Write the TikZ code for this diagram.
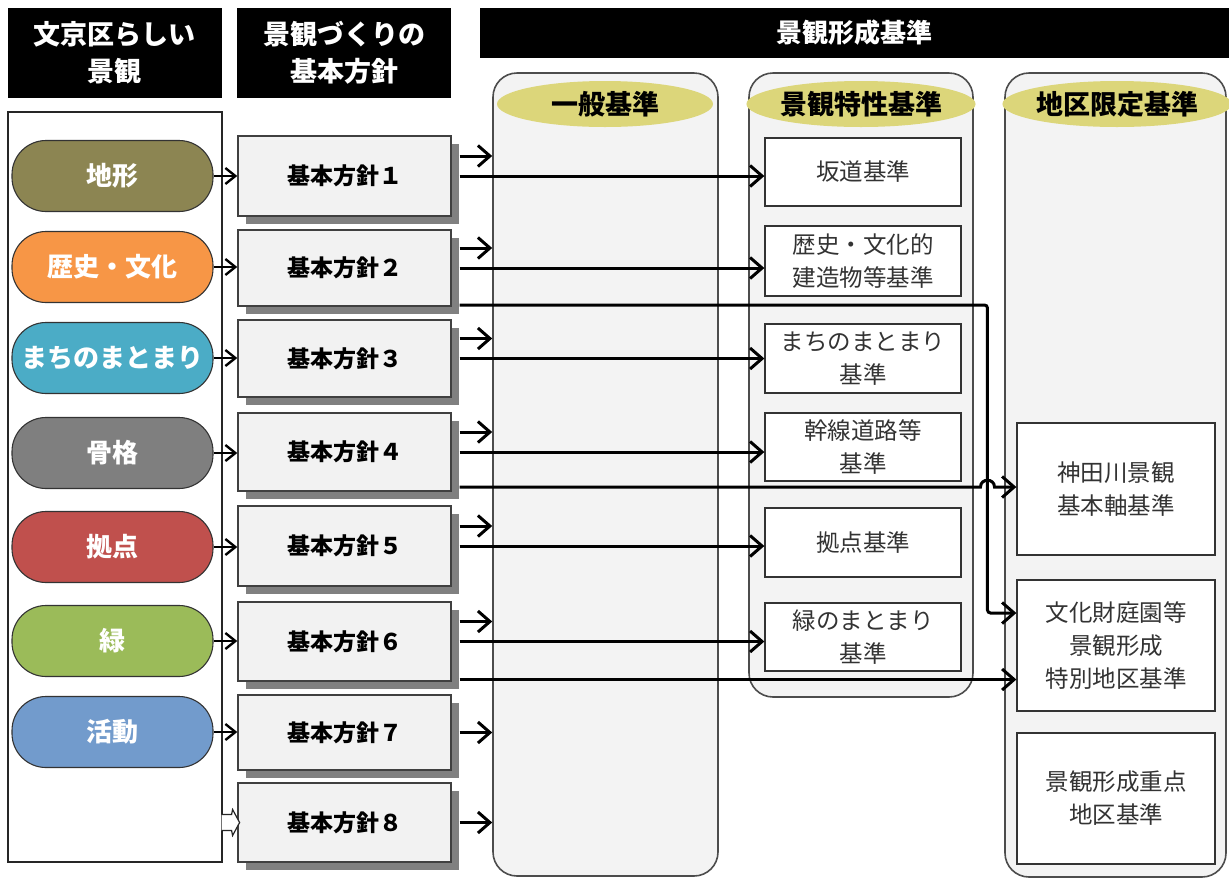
\documentclass[tikz,border=0pt]{standalone}
\usepackage{fontspec}
\setmainfont{Noto Sans CJK JP}
\usetikzlibrary{arrows.meta,shadows,calc,shapes.geometric}
\definecolor{cTerrain}{RGB}{140,133,82}
\definecolor{cHistory}{RGB}{247,150,70}
\definecolor{cTown}{RGB}{75,172,198}
\definecolor{cFrame}{RGB}{127,127,127}
\definecolor{cBase}{RGB}{192,80,77}
\definecolor{cGreen}{RGB}{155,187,89}
\definecolor{cAct}{RGB}{114,155,204}
\definecolor{capfill}{RGB}{220,214,122}
\definecolor{panelfill}{RGB}{243,243,243}
\definecolor{boxfill}{RGB}{242,242,242}
\definecolor{shadowgray}{RGB}{128,128,128}
\begin{document}
\begin{tikzpicture}[x=1pt,y=-1pt,
  hdr/.style={fill=black, text=white, font=\fontsize{27}{37}\selectfont\bfseries, align=center, inner sep=0pt},
  pill/.style={rounded corners=34pt, draw=black!80, line width=1.1pt, minimum width=201pt, minimum height=71pt, inner sep=0pt, text=white, font=\fontsize{26}{30}\selectfont\bfseries},
  policy/.style={draw=black!75, line width=1.4pt, fill=boxfill, minimum width=213pt, minimum height=77pt, inner sep=0pt, font=\fontsize{23}{28}\selectfont\bfseries, general shadow={fill=shadowgray, shadow xshift=8pt, shadow yshift=-8pt}},
  panel/.style={draw=black!70, line width=1.6pt, fill=panelfill, rounded corners=24pt, inner sep=0pt},
  panelcap/.style={ellipse, fill=capfill, minimum width=216pt, minimum height=46pt, inner sep=0pt, font=\fontsize{27}{30}\selectfont\bfseries},
  crit/.style={draw=black!80, line width=1.3pt, fill=white, minimum width=196pt, inner sep=0pt, align=center, text=black!80, font=\fontsize{23.5}{33}\selectfont},
  arr/.style={line width=3pt, -{Straight Barb[length=12pt,width=21pt]}},
  sarr/.style={line width=2.4pt, -{Straight Barb[length=10pt,width=16pt]}}
]
\useasboundingbox (0,0) rectangle (1229,879);
\fill[white] (0,0) rectangle (1229,879);

% headers
\node[hdr, minimum width=214pt, minimum height=90pt] (h1) at (115,53) {文京区らしい\\景観};
\node[hdr, minimum width=214pt, minimum height=90pt] (h2) at (344,53) {景観づくりの\\基本方針};
\node[hdr, minimum width=749pt, minimum height=50pt, font=\fontsize{26}{30}\selectfont\bfseries] (h3) at (854.5,33) {景観形成基準};

% left container
\node[draw=black!85, line width=1.2pt, fill=white, minimum width=214pt, minimum height=750pt, inner sep=0pt] (lc) at (115,487) {};

% pills
\node[pill, fill=cTerrain] (p1) at (112.5,176) {地形};
\node[pill, fill=cHistory] (p2) at (112.5,267) {歴史・文化};
\node[pill, fill=cTown] (p3) at (112.5,358) {まちのまとまり};
\node[pill, fill=cFrame] (p4) at (112.5,453) {骨格};
\node[pill, fill=cBase] (p5) at (112.5,547) {拠点};
\node[pill, fill=cGreen] (p6) at (112.5,641) {緑};
\node[pill, fill=cAct] (p7) at (112.5,732) {活動};

% panels
\node[panel, minimum width=225pt, minimum height=803pt] (g1) at (605.5,474.5) {};
\node[panel, minimum width=224pt, minimum height=624pt] (g2) at (861,385) {};
\node[panel, minimum width=221pt, minimum height=804pt] (g3) at (1115.5,475) {};
\node[panelcap] (c1) at (605,104) {一般基準};
\node[panelcap, minimum width=218pt] (c2) at (861,104) {景観特性基準};
\node[panelcap, minimum width=218pt] (c3) at (1117,104) {地区限定基準};

% criteria boxes
\node[crit, minimum height=68pt] (k1) at (863,172) {坂道基準};
\node[crit, minimum height=70pt] (k2) at (863,261) {歴史・文化的\\建造物等基準};
\node[crit, minimum height=69pt] (k3) at (863,358.5) {まちのまとまり\\基準};
\node[crit, minimum height=68pt] (k4) at (863,447) {幹線道路等\\基準};
\node[crit, minimum height=69pt] (k5) at (863,542.5) {拠点基準};
\node[crit, minimum height=68pt] (k6) at (863,637) {緑のまとまり\\基準};
\node[crit, minimum width=198pt, minimum height=132pt] (r1) at (1116,489) {神田川景観\\基本軸基準};
\node[crit, minimum width=198pt, minimum height=131pt] (r2) at (1116,645.5) {文化財庭園等\\景観形成\\特別地区基準};
\node[crit, minimum width=198pt, minimum height=131pt] (r3) at (1116,798.5) {景観形成重点\\地区基準};

% policy boxes
\node[policy, minimum height=80pt] (b1) at (344.5,176) {基本方針１};
\node[policy, minimum height=76pt] (b2) at (344.5,268) {基本方針２};
\node[policy] (b3) at (344.5,358.5) {基本方針３};
\node[policy, minimum height=78pt] (b4) at (344.5,452) {基本方針４};
\node[policy, minimum height=80pt] (b5) at (344.5,546) {基本方針５};
\node[policy, minimum height=79pt] (b6) at (344.5,641.5) {基本方針６};
\node[policy, minimum height=75pt] (b7) at (344.5,732.5) {基本方針７};
\node[policy, minimum height=79pt] (b8) at (344.5,822.5) {基本方針８};

% pill -> policy arrows
\foreach \i in {1,...,7} {
  \draw[sarr] (p\i.east) -- (p\i.east -| b\i.west);
}
% open arrow into policy 8
\coordinate (o8) at (lc.east |- b8.west);
\path[fill=white, draw=black!85, line width=1.2pt, line join=miter]
  ($(o8)+(-1,-8)$) -- ++(10,0) -- ++(1,-5) -- ++(7,13) -- ++(-7,13) -- ++(-1,-5) -- ++(-10,0);

% short arrows to general criteria
\foreach \i in {1,...,6} {
  \coordinate (s\i) at ([shift={(8,-20)}]b\i.east);
  \draw[arr] (s\i) -- (s\i -| g1.west);
}
\foreach \i in {7,8} {
  \coordinate (s\i) at ([xshift=8pt]b\i.east);
  \draw[arr] (s\i) -- (s\i -| g1.west);
}

% long arrows to characteristic criteria
\foreach \i in {1,...,6} {
  \coordinate (l\i) at ([xshift=8pt]b\i.east);
  \draw[arr] (l\i) -- (l\i -| k\i.west);
}

% routes to district criteria
\coordinate (vx) at ($(g2.east)!0.45!(g3.west)$);
\coordinate (e2) at ([shift={(8,37)}]b2.east);
\coordinate (e4) at ([shift={(8,35)}]b4.east);
\coordinate (e6) at ([shift={(8,38)}]b6.east);
\coordinate (t2) at ([shift={(0,-32.5)}]r2.west);
\draw[arr, rounded corners=3pt] (e2) -- (e2 -| vx) -- (vx |- t2) -- (t2);
\coordinate (hp) at (e4 -| vx);
\draw[arr] (e4) -- ($(hp)+(-7,0)$) .. controls +(0,-9) and +(0,-9) .. ($(hp)+(7,0)$) -- (e4 -| r1.west);
\draw[arr] (e6) -- (e6 -| r2.west);
\end{tikzpicture}
\end{document}
